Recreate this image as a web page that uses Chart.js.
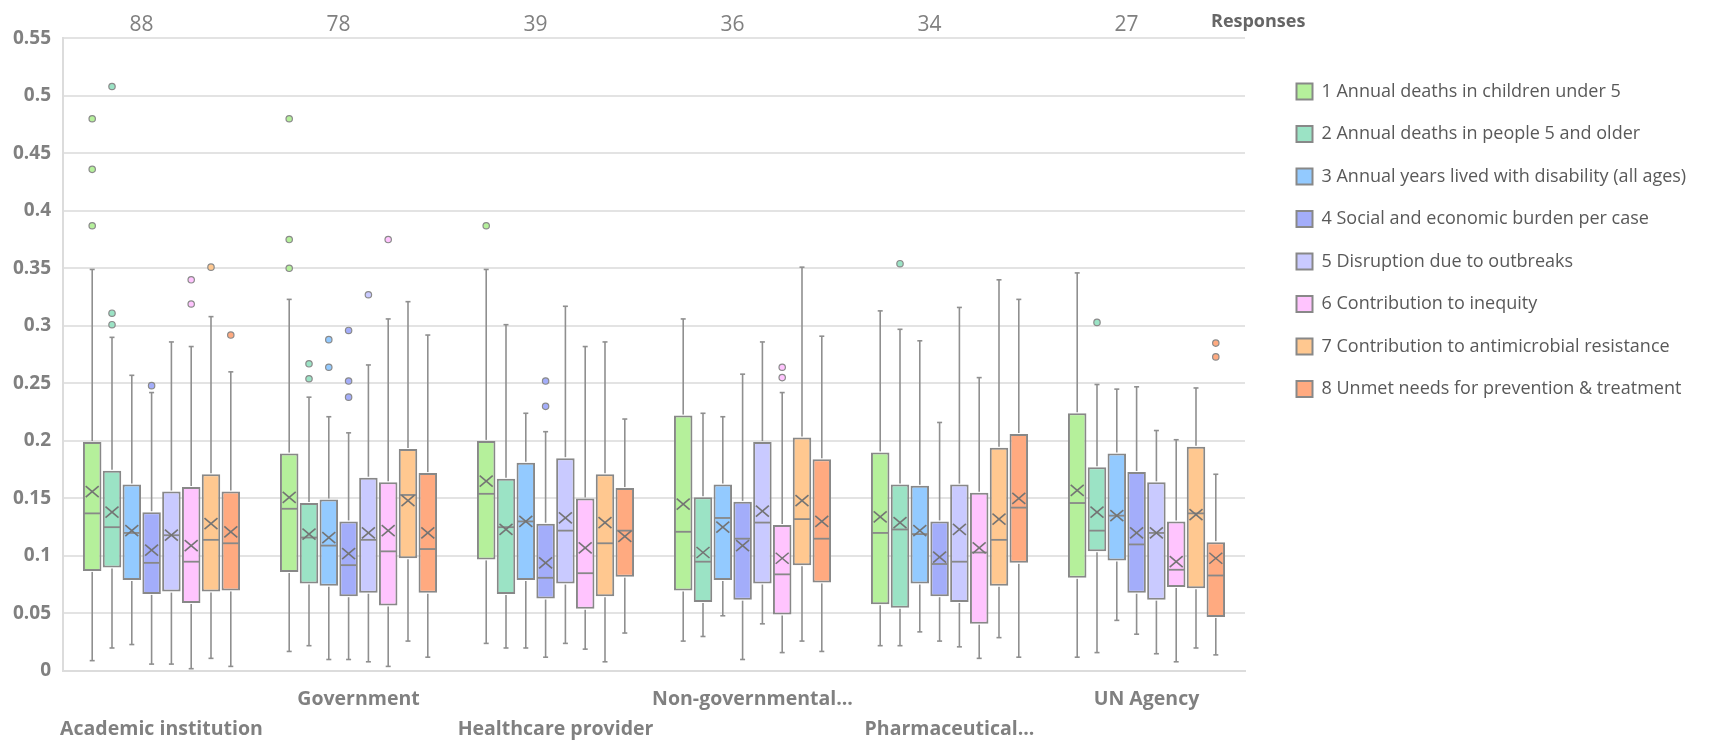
<!DOCTYPE html>
<html>
<head>
<meta charset="utf-8">
<script src="https://cdn.jsdelivr.net/npm/chart.js@4.4.1/dist/chart.umd.min.js"></script>
<style>
body { margin: 0; background: #fff; }
#wrap { width: 1725px; height: 741px; }
</style>
</head>
<body>
<div id="wrap"><canvas id="canvas" width="1725" height="741"></canvas></div>
<script>
// categories (two-row staggered labels), response counts on top
var groups = [['', 'Academic institution'], ['Government'], ['', 'Healthcare provider'],
              ['Non-governmental...'], ['', 'Pharmaceutical...'], ['UN Agency']];
var responses = ['88', '78', '39', '36', '34', '27'];

var seriesNames = [
  '1 Annual deaths in children under 5',
  '2 Annual deaths in people 5 and older',
  '3 Annual years lived with disability (all ages)',
  '4 Social and economic burden per case',
  '5 Disruption due to outbreaks',
  '6 Contribution to inequity',
  '7 Contribution to antimicrobial resistance',
  '8 Unmet needs for prevention & treatment'
];
var colors = ['#b5f09b', '#9be3c5', '#93caff', '#a3adfa', '#c9caff', '#ffc4fe', '#ffc890', '#ffaa80'];

// box stats, one row per series, one value per group
var lowW = [
  [0.009, 0.017, 0.024, 0.026, 0.022, 0.012],
  [0.020, 0.022, 0.020, 0.030, 0.022, 0.016],
  [0.023, 0.010, 0.020, 0.048, 0.034, 0.044],
  [0.006, 0.010, 0.012, 0.010, 0.026, 0.032],
  [0.006, 0.008, 0.024, 0.041, 0.021, 0.015],
  [0.002, 0.004, 0.019, 0.016, 0.011, 0.008],
  [0.011, 0.026, 0.008, 0.026, 0.029, 0.020],
  [0.004, 0.012, 0.033, 0.017, 0.012, 0.014]
];
var q1 = [
  [0.087, 0.086, 0.097, 0.070, 0.058, 0.081],
  [0.090, 0.076, 0.067, 0.060, 0.055, 0.104],
  [0.079, 0.074, 0.079, 0.079, 0.076, 0.096],
  [0.067, 0.065, 0.063, 0.062, 0.065, 0.068],
  [0.069, 0.068, 0.076, 0.076, 0.060, 0.062],
  [0.059, 0.057, 0.054, 0.049, 0.041, 0.073],
  [0.069, 0.098, 0.065, 0.092, 0.074, 0.072],
  [0.070, 0.068, 0.082, 0.077, 0.094, 0.047]
];
var median = [
  [0.137, 0.141, 0.154, 0.121, 0.120, 0.146],
  [0.125, 0.116, 0.125, 0.095, 0.123, 0.122],
  [0.120, 0.109, 0.130, 0.133, 0.119, 0.135],
  [0.094, 0.092, 0.081, 0.115, 0.093, 0.110],
  [0.118, 0.114, 0.122, 0.129, 0.095, 0.120],
  [0.095, 0.104, 0.085, 0.084, 0.103, 0.088],
  [0.114, 0.153, 0.111, 0.132, 0.114, 0.137],
  [0.111, 0.106, 0.122, 0.115, 0.142, 0.083]
];
var q3 = [
  [0.199, 0.189, 0.200, 0.222, 0.190, 0.224],
  [0.174, 0.146, 0.167, 0.151, 0.162, 0.177],
  [0.162, 0.149, 0.181, 0.162, 0.161, 0.189],
  [0.138, 0.130, 0.128, 0.147, 0.130, 0.173],
  [0.156, 0.168, 0.185, 0.199, 0.162, 0.164],
  [0.160, 0.164, 0.150, 0.127, 0.155, 0.130],
  [0.171, 0.193, 0.171, 0.203, 0.194, 0.195],
  [0.156, 0.172, 0.159, 0.184, 0.206, 0.112]
];
var highW = [
  [0.349, 0.323, 0.349, 0.306, 0.313, 0.346],
  [0.290, 0.238, 0.301, 0.224, 0.297, 0.249],
  [0.257, 0.221, 0.224, 0.221, 0.287, 0.245],
  [0.242, 0.207, 0.208, 0.258, 0.216, 0.247],
  [0.286, 0.266, 0.317, 0.286, 0.316, 0.209],
  [0.282, 0.306, 0.282, 0.242, 0.255, 0.201],
  [0.308, 0.321, 0.286, 0.351, 0.340, 0.246],
  [0.260, 0.292, 0.219, 0.291, 0.323, 0.171]
];
var mean = [
  [0.156, 0.151, 0.165, 0.145, 0.134, 0.157],
  [0.138, 0.119, 0.123, 0.103, 0.129, 0.138],
  [0.122, 0.116, 0.130, 0.125, 0.122, 0.135],
  [0.105, 0.102, 0.094, 0.109, 0.099, 0.120],
  [0.118, 0.120, 0.133, 0.139, 0.123, 0.120],
  [0.109, 0.122, 0.107, 0.098, 0.107, 0.095],
  [0.128, 0.148, 0.129, 0.148, 0.132, 0.136],
  [0.121, 0.120, 0.117, 0.130, 0.150, 0.098]
];
var outliers = [
  [[0.387, 0.436, 0.480], [0.350, 0.375, 0.480], [0.387], [], [], []],
  [[0.301, 0.311, 0.508], [0.254, 0.267], [], [], [0.354], [0.303]],
  [[], [0.264, 0.288], [], [], [], []],
  [[0.248], [0.238, 0.252, 0.296], [0.230, 0.252], [], [], []],
  [[], [0.327], [], [], [], []],
  [[0.319, 0.340], [0.375], [], [0.255, 0.264], [], []],
  [[0.351], [], [], [], [], []],
  [[0.292], [], [], [], [], [0.273, 0.285]]
];

var FONT = '"Open Sans", "DejaVu Sans", sans-serif';
var GREY = '#888888';

var datasets = seriesNames.map(function (name, s) {
  return {
    label: name,
    data: q1[s].map(function (v, g) { return [v, q3[s][g]]; }),
    backgroundColor: colors[s],
    borderColor: GREY,
    borderWidth: 2,
    borderSkipped: false,
    categoryPercentage: 0.804,
    barPercentage: 0.934
  };
});

// whiskers, medians, means and outliers on top of the floating bars
var boxPlugin = {
  id: 'boxes',
  afterLayout: function (chart) {
    // legend sits a bit away from the plot and runs to the canvas edge
    var lg = chart.legend;
    lg.left = chart.chartArea.right + 27;
    lg.right = chart.width;
    lg.width = lg.right - lg.left;
  },
  afterDatasetsDraw: function (chart) {
    var ctx = chart.ctx;
    var ys = chart.scales.y;
    function py(v) { return ys.getPixelForValue(v); }
    function seg(x1, y1, x2, y2) {
      ctx.beginPath(); ctx.moveTo(x1, y1); ctx.lineTo(x2, y2); ctx.stroke();
    }
    ctx.save();
    chart.data.datasets.forEach(function (ds, s) {
      chart.getDatasetMeta(s).data.forEach(function (bar, g) {
        var x = bar.x, hw = bar.width / 2 - 1;
        ctx.strokeStyle = '#8f8f8f';
        ctx.lineWidth = 1.6;
        seg(x, py(q3[s][g]) - 1, x, py(highW[s][g]));
        seg(x - 2.5, py(highW[s][g]), x + 2.5, py(highW[s][g]));
        seg(x, py(q1[s][g]) + 1, x, py(lowW[s][g]));
        seg(x - 2.5, py(lowW[s][g]), x + 2.5, py(lowW[s][g]));
        ctx.strokeStyle = GREY;
        ctx.lineWidth = 1.8;
        seg(x - hw, py(median[s][g]), x + hw, py(median[s][g]));
        var my = py(mean[s][g]);
        ctx.strokeStyle = '#747474';
        ctx.lineWidth = 1.6;
        seg(x - 6.5, my - 5.5, x + 6.5, my + 5.5);
        seg(x - 6.5, my + 5.5, x + 6.5, my - 5.5);
        outliers[s][g].forEach(function (v) {
          ctx.beginPath();
          ctx.arc(x, py(v), 3.2, 0, Math.PI * 2);
          ctx.fillStyle = colors[s];
          ctx.fill();
          ctx.strokeStyle = '#8a8a8a';
          ctx.lineWidth = 1.2;
          ctx.stroke();
        });
      });
    });
    // "Responses" caption beside the top counts
    var top = chart.scales.x2;
    ctx.fillStyle = '#666666';
    ctx.font = 'bold 18px ' + FONT;
    ctx.textBaseline = 'middle';
    ctx.textAlign = 'left';
    ctx.fillText('Responses', chart.chartArea.right - 34, (top.top + top.bottom) / 2 - 3);
    ctx.restore();
  }
};

var config = {
  type: 'bar',
  data: { labels: groups, datasets: datasets },
  options: {
    responsive: false,
    animation: false,
    layout: { padding: { left: 8, top: 11, right: 80, bottom: 0 } },
    plugins: {
      tooltip: { enabled: false },
      legend: {
        position: 'right',
        align: 'start',
        maxWidth: 400,
        title: { display: true, text: ' ', font: { size: 10 }, padding: { top: 35, bottom: 0 } },
        labels: {
          boxWidth: 16, boxHeight: 16, padding: 24.5,
          color: '#595959',
          font: { family: FONT, size: 18 }
        }
      }
    },
    scales: {
      x: {
        grid: { display: false, drawTicks: false },
        border: { display: true, color: '#dcdcdc', width: 2 },
        afterFit: function (s) { s.height = 70; },
        ticks: {
          color: '#808080', padding: 13, autoSkip: false, maxRotation: 0,
          font: { family: FONT, size: 19.5, weight: 'bold', lineHeight: 1.54 }
        }
      },
      x2: {
        type: 'category',
        position: 'top',
        labels: responses,
        offset: true,
        grid: { display: false, drawTicks: false },
        border: { display: false },
        ticks: { color: '#808080', padding: 1, labelOffset: -20, font: { family: FONT, size: 21 } }
      },
      y: {
        min: 0, max: 0.55,
        grid: { color: '#e3e3e3', lineWidth: 2, drawTicks: false },
        border: { display: true, color: '#dcdcdc', width: 2 },
        afterFit: function (s) { s.width = 55; },
        ticks: {
          stepSize: 0.05, padding: 12, color: '#808080',
          font: { family: FONT, size: 19, weight: 'bold' },
          callback: function (v) { return String(+v.toFixed(2)); }
        }
      }
    }
  },
  plugins: [boxPlugin]
};

window.onload = function () {
  var ctx = document.getElementById('canvas').getContext('2d');
  window.myChart = new Chart(ctx, config);
};
</script>
</body>
</html>
